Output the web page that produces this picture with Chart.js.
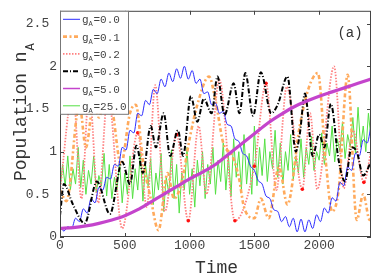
<!DOCTYPE html>
<html>
<head>
<meta charset="utf-8">
<script src="https://cdn.jsdelivr.net/npm/chart.js@4.4.0/dist/chart.umd.min.js"></script>
<style>
html, body { margin: 0; padding: 0; background: #fff; }
</style>
</head>
<body>
<canvas id="chart" width="374" height="275"></canvas>
<script>
// coupling values shown in the legend
var couplings = ['0.0', '0.1', '0.2', '0.3', '5.0', '25.0'];
var xTicks = [0, 500, 1000, 1500, 2000];
var yTicks = [0, 0.5, 1, 1.5, 2, 2.5];

// g_A = 0.0 (blue)
var tBlue = [0,30,60,90,120,150,180,210,240,270,300,330,360,390,420,450,480,510,540,570,
  600,630,660,690,720,750,780,810,840,870,900,930,960,990,1020,1050,1080,1110,1140,1170,
  1200,1230,1260,1290,1320,1350,1380,1410,1440,1470,1500,1530,1560,1590,1620,1650,1680,1710,1740,1770,
  1800,1830,1860,1890,1920,1950,1980,2010,2040,2070,2100,2130,2160,2190,2220,2250,2280,2310,2340,2370,2400];
var blue = [0.12,0.07,0.12,0.10,0.22,0.18,0.33,0.28,0.45,0.40,0.58,0.55,0.70,0.68,0.85,0.83,1.05,1.02,1.25,1.22,
  1.45,1.42,1.60,1.55,1.73,1.68,1.85,1.76,1.92,1.82,1.97,1.86,2.00,1.85,1.95,1.80,1.85,1.68,1.70,1.55,
  1.57,1.45,1.47,1.32,1.30,1.15,1.12,0.98,0.95,0.83,0.78,0.66,0.62,0.48,0.45,0.32,0.30,0.18,0.24,0.12,
  0.22,0.06,0.21,0.06,0.20,0.10,0.26,0.18,0.34,0.28,0.46,0.42,0.64,0.60,0.82,0.78,0.98,0.95,1.14,1.10,1.30];

// g_A = 0.1 (orange)
var tOrange = [0,50,150,200,260,300,340,400,470,540,585,640,700,760,830,880,940,1000,1060,1150,
  1200,1260,1330,1380,1420,1500,1550,1610,1690,1755,1850,1920,1990,2050,2100,2150,2220,2290,2340,2390,2400];
var orange = [0.55,0.42,1.55,1.05,1.58,1.40,1.58,1.50,0.85,1.45,1.55,0.90,0.45,0.08,0.75,0.45,0.65,1.15,1.55,1.88,
  1.60,1.10,0.95,0.70,0.35,0.22,0.45,0.22,0.82,0.38,1.30,1.75,1.92,0.90,0.30,0.55,1.90,0.20,0.50,0.20,0.22];

// g_A = 0.2 (red)
var tRed = [0,100,165,225,295,370,480,600,670,735,810,900,990,1070,1130,1230,1350,1500,1590,1670,
  1750,1870,1930,1985,2115,2190,2260,2345,2400];
var red = [0.55,1.70,0.45,1.72,0.40,1.68,0.10,1.22,0.35,1.78,0.30,1.20,0.19,1.30,0.50,1.84,0.19,0.83,1.80,0.55,
  1.76,0.56,1.45,0.56,2.00,0.57,1.25,0.64,1.00];
var redMarks = [1, 7, 11, 12, 16, 17, 18, 21, 27];

// g_A = 0.3 (black)
var tBlack = [0,30,100,190,285,385,480,540,590,640,700,740,800,850,910,950,1010,1060,1110,1170,
  1215,1270,1340,1385,1430,1490,1550,1630,1680,1755,1820,1850,1890,1950,2000,2040,2090,2150,2200,2250,
  2290,2340,2400];
var black = [0.25,0.62,0.38,0.16,0.65,0.27,0.88,0.62,1.07,0.75,1.30,1.05,1.45,0.95,1.25,0.95,1.65,1.35,1.62,1.45,
  1.88,1.43,1.80,1.45,1.92,1.42,1.93,1.45,1.55,1.88,1.00,1.20,1.68,0.95,1.20,1.05,1.56,0.90,0.65,1.05,
  1.00,0.72,0.88];

// g_A = 5.0 (magenta)
var tMagenta = [0,100,200,300,400,500,600,700,800,900,1000,1100,1200,1300,1400,1500,1600,1700,1800,1900,
  2000,2100,2200,2300,2400];
var magenta = [0.10,0.11,0.13,0.16,0.20,0.25,0.32,0.41,0.50,0.59,0.68,0.76,0.85,0.97,1.09,1.21,1.33,1.43,1.52,1.59,
  1.65,1.70,1.75,1.80,1.85];

// g_A = 25.0 (green)
var tGreen = [0,20,40,60,80,100,120,140,160,180,200,220,240,260,280,300,320,340,360,380,
  400,420,440,460,480,500,520,540,560,580,600,620,640,660,680,700,720,740,760,780,
  800,820,840,860,880,900,920,940,960,980,1000,1020,1040,1060,1080,1100,1120,1140,1160,1180,
  1200,1220,1240,1260,1280,1300,1320,1340,1360,1380,1400,1420,1440,1460,1480,1500,1520,1540,1560,1580,
  1600,1620,1640,1660,1680,1700,1720,1740,1760,1780,1800,1820,1840,1860,1880,1900,1920,1940,1960,1980,
  2000,2020,2040,2060,2080,2100,2120,2140,2160,2180,2200,2220,2240,2260,2280,2300,2320,2340,2360,2380,2400];
var green = [0.55,0.85,0.60,0.95,0.55,0.80,0.62,1.05,0.58,0.90,
  0.50,0.78,0.62,0.95,0.52,0.72,0.60,0.98,0.48,0.85,
  0.45,0.70,0.55,0.88,0.40,0.75,0.50,0.95,0.45,0.80,
  0.55,1.00,0.42,0.85,0.60,0.92,0.38,0.75,0.55,0.98,
  0.30,0.70,0.50,1.02,0.45,0.85,0.28,0.75,0.55,1.05,
  0.50,0.80,0.35,0.90,0.60,1.00,0.45,0.85,0.62,1.05,
  0.50,0.90,0.65,1.10,0.55,0.95,0.48,1.15,0.70,1.00,
  0.55,1.20,0.62,0.98,0.50,1.30,0.60,1.05,0.72,1.15,
  0.65,1.00,0.80,1.25,0.70,1.10,0.62,1.00,0.78,1.20,
  0.68,0.95,0.75,1.15,0.70,1.05,0.85,1.18,0.78,1.00,
  0.90,1.22,0.85,1.10,0.95,1.30,0.88,1.15,1.00,1.35,
  0.92,1.20,1.05,1.40,0.98,1.52,1.05,1.30,1.00,1.45,1.15];

var mono = '"Liberation Mono", "Courier New", monospace';

function pts(t, v) {
  return t.map(function (x, i) { return { x: x, y: v[i] }; });
}

var datasets = [
  { data: pts(tBlue, blue), borderColor: '#2b2bff', borderWidth: 1, order: 2,
    cubicInterpolationMode: 'monotone', legendWidth: 1 },
  { data: pts(tOrange, orange), borderColor: '#ffaa5c', borderWidth: 2.6, borderDash: [4, 2.5, 2, 2.5], order: 3,
    cubicInterpolationMode: 'monotone', legendWidth: 2.6 },
  { data: pts(tRed, red), borderColor: '#ff8080', borderWidth: 1.8, borderDash: [1.5, 1.5], order: 4,
    cubicInterpolationMode: 'monotone', legendWidth: 1.6,
    pointRadius: function (ctx) { return redMarks.indexOf(ctx.dataIndex) >= 0 ? 1.8 : 0; },
    pointBackgroundColor: '#ff1010', pointBorderWidth: 0 },
  { data: pts(tBlack, black), borderColor: '#000000', borderWidth: 2, borderDash: [5, 2, 1, 2], order: 1,
    cubicInterpolationMode: 'monotone', legendWidth: 2 },
  { data: pts(tMagenta, magenta), borderColor: '#c444cc', borderWidth: 3.2, order: 0,
    cubicInterpolationMode: 'monotone', legendWidth: 1.5 },
  { data: pts(tGreen, green), borderColor: '#55e044', borderWidth: 1, tension: 0, order: 5, legendWidth: 1 }
];
datasets.forEach(function (d) { d.pointRadius = d.pointRadius || 0; d.fill = false; });

var decor = {
  id: 'decor',
  afterDatasetsDraw: function (chart) {
    var c = chart.ctx, a = chart.chartArea, xs = chart.scales.x, ys = chart.scales.y;
    c.save();
    c.strokeStyle = '#444';
    c.lineWidth = 1;
    c.strokeRect(a.left + 0.5, a.top + 0.5, a.right - a.left - 1, a.bottom - a.top - 1);
    c.beginPath();
    xTicks.forEach(function (v) {
      var p = Math.round(xs.getPixelForValue(v)) + 0.5;
      c.moveTo(p, a.bottom); c.lineTo(p, a.bottom - 4);
      c.moveTo(p, a.top); c.lineTo(p, a.top + 4);
    });
    yTicks.forEach(function (v) {
      var p = Math.round(ys.getPixelForValue(v)) + 0.5;
      c.moveTo(a.left, p); c.lineTo(a.left + 4, p);
      c.moveTo(a.right, p); c.lineTo(a.right - 4, p);
    });
    c.stroke();
    c.restore();
  },
  afterDraw: function (chart) {
    var c = chart.ctx, a = chart.chartArea;
    c.save();
    // legend box
    var lx = a.left, ly = a.top, lw = 68, lh = 103;
    c.fillStyle = '#fff';
    c.fillRect(lx, ly, lw, lh);
    c.strokeStyle = '#777';
    c.lineWidth = 1;
    c.strokeRect(lx + 0.5, ly + 0.5, lw, lh);
    chart.data.datasets.forEach(function (d, i) {
      var y = ly + 8.5 + 17.3 * i;
      c.save();
      c.strokeStyle = d.borderColor;
      c.lineWidth = d.legendWidth;
      c.setLineDash(d.borderDash || []);
      c.beginPath();
      c.moveTo(lx + 3, y); c.lineTo(lx + 20, y);
      c.stroke();
      c.restore();
      c.fillStyle = '#444';
      c.textBaseline = 'alphabetic';
      c.textAlign = 'left';
      c.font = '11px ' + mono;
      c.fillText('g', lx + 22, y + 4);
      c.font = '7px ' + mono;
      c.fillText('A', lx + 28.5, y + 7);
      c.font = '11px ' + mono;
      c.fillText('=' + couplings[i], lx + 33.5, y + 4);
    });
    // panel label
    c.fillStyle = '#333';
    c.font = '14px ' + mono;
    c.textAlign = 'center';
    c.textBaseline = 'middle';
    c.fillText('(a)', 350, 33);
    // x title
    c.font = '18px ' + mono;
    c.textBaseline = 'alphabetic';
    c.fillText('Time', (a.left + a.right) / 2 + 1, 273);
    // y title
    c.translate(26, 181);
    c.rotate(-Math.PI / 2);
    c.textAlign = 'left';
    c.font = '18px ' + mono;
    c.fillText('Population n', 0, 0);
    var w = c.measureText('Population n').width;
    c.font = '12px ' + mono;
    c.fillText('A', w + 1, 8);
    c.restore();
  }
};

new Chart(document.getElementById('chart'), {
  type: 'line',
  data: { datasets: datasets },
  options: {
    responsive: false,
    animation: false,
    devicePixelRatio: 1,
    layout: { padding: { top: 1, right: 3, left: 0, bottom: 0 } },
    plugins: { legend: { display: false }, tooltip: { enabled: false }, title: { display: false } },
    scales: {
      x: {
        type: 'linear', min: 0, max: 2400,
        grid: { display: false, drawTicks: false }, border: { display: false },
        afterBuildTicks: function (s) { s.ticks = xTicks.map(function (v) { return { value: v }; }); },
        afterFit: function (s) { s.height = 38; },
        ticks: {
          padding: 1, color: '#444', font: { family: mono, size: 13 }, maxRotation: 0,
          callback: function (v) { return String(v); }
        }
      },
      y: {
        type: 'linear', min: 0, max: 2.65,
        grid: { display: false, drawTicks: false }, border: { display: false },
        afterBuildTicks: function (s) { s.ticks = yTicks.map(function (v) { return { value: v }; }); },
        afterFit: function (s) { s.width = 60; },
        ticks: {
          padding: 3, color: '#444', font: { family: mono, size: 13 },
          callback: function (v) { return Number.isInteger(v) ? String(v) : v.toFixed(1) + ' '; }
        }
      }
    }
  },
  plugins: [decor]
});
</script>
</body>
</html>
